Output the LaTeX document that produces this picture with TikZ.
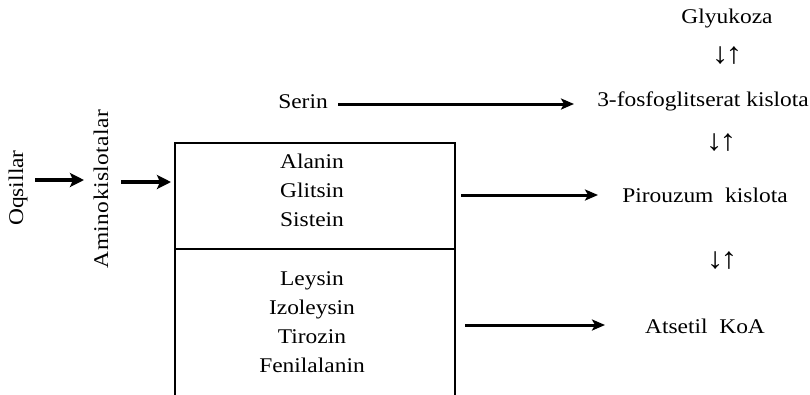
\documentclass[tikz,border=0pt]{standalone}
\usepackage{fontspec}
\setmainfont{Liberation Serif}[FakeStretch=1.12]
\usetikzlibrary{arrows.meta}
\tikzset{
  lbl/.style={inner sep=0pt, font=\fontsize{21}{29}\selectfont},
  updn/.style={inner sep=0pt, font=\fontsize{30}{30}\selectfont},
  arrL/.style={line width=3.2bp, -{Stealth[length=14bp,width=14bp,inset=3bp]}},
  arrR/.style={line width=3bp, -{Stealth[length=13bp,width=11bp,inset=3bp]}},
  boxline/.style={line width=2.6bp},
}
\begin{document}
\begin{tikzpicture}[x=1bp,y=-1bp]
\useasboundingbox (0,0) rectangle (810,394);
% left labels
\node[lbl, rotate=90] (oq) at (18,188) {Oqsillar};
\node[lbl, rotate=90] (am) at (101,189) {\addfontfeature{LetterSpace=2}Aminokislotalar};
\coordinate (a1s) at (35,180);
\coordinate (a1e) at (84,180);
\coordinate (a2s) at (121,182);
\coordinate (a2e) at (171,182);
\draw[arrL] (a1s) -- (a1e);
\draw[arrL] (a2s) -- (a2e);
% box
\draw[boxline] (175,395) -- (175,143) -- (455,143) -- (455,395);
\draw[boxline] (175,249) -- (455,249);
\node[lbl, align=center] (up) at (312,190) {Alanin\\Glitsin\\Sistein};
\node[lbl, align=center] (lo) at (312,322) {Leysin\\Izoleysin\\Tirozin\\Fenilalanin};
% serin
\node[lbl] (ser) at (303,102) {Serin};
\coordinate (s1) at (338,104);
\coordinate (s2) at (574,104);
\draw[arrR] (s1) -- (s2);
% right column
\node[lbl] (gl) at (727,18) {Glyukoza};
\node[updn] (ar1) at (727,56) {↓\kern-3bp↑};
\node[lbl] (fg) at (703,101) {3-fosfoglitserat kislota};
\node[updn] (ar2) at (721,143) {↓\kern-3bp↑};
\node[lbl] (pk) at (705,195) {Pirouzum\ \ kislota};
\node[updn] (ar3) at (722,261) {↓\kern-3bp↑};
\node[lbl] (ak) at (705,326) {Atsetil\ \ KoA};
\coordinate (p1) at (461,195);
\coordinate (p2) at (598,195);
\coordinate (k1) at (465,325);
\coordinate (k2) at (605,325);
\draw[arrR] (p1) -- (p2);
\draw[arrR] (k1) -- (k2);
\end{tikzpicture}
\end{document}
